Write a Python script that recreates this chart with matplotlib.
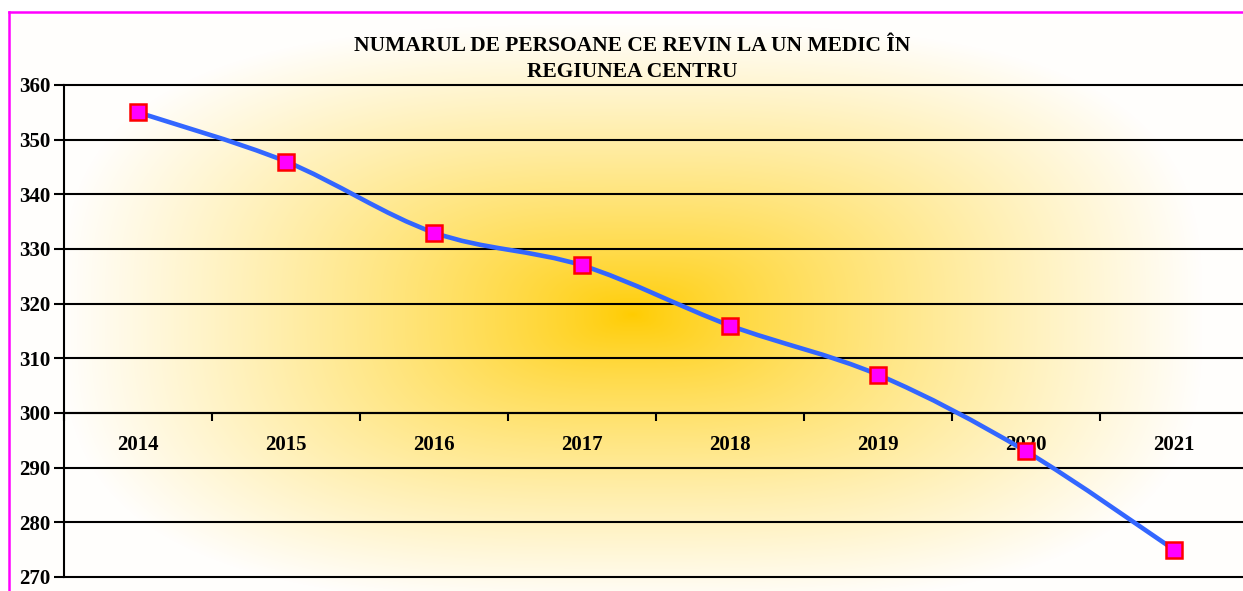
import numpy as np
import matplotlib.pyplot as plt
from matplotlib.path import Path
from matplotlib.patches import PathPatch
from matplotlib.lines import Line2D
from matplotlib.ticker import FixedLocator, NullFormatter

plt.rcParams['font.family'] = ['Liberation Serif', 'DejaVu Serif']
plt.rcParams['font.weight'] = 'bold'

years = ['2014', '2015', '2016', '2017', '2018', '2019', '2020', '2021']
persoane = [355, 346, 333, 327, 316, 307, 293, 275]
titlu = 'NUMARUL DE PERSOANE CE REVIN LA UN MEDIC ÎN\nREGIUNEA CENTRU'

W, H = 1243, 591
fig = plt.figure(figsize=(W / 100, H / 100), dpi=100)

# gradient fill of the chart area (gold centre fading to white)
bg = fig.add_axes([0, 0, 1, 1], zorder=0)
bg.set_axis_off()
yy, xx = np.mgrid[0:H, 0:W]
cx, cy, a, b, p = 632, 314, 570, 290, 3.0
t = ((np.abs(xx - cx) / a) ** p + (np.abs(yy - cy) / b) ** p) ** (1 / p)
s = np.clip(t, 0, 1) ** 0.8
gold = np.array([255, 204, 0]) / 255
white = np.array([255, 254, 252]) / 255
img = gold[None, None, :] * (1 - s[..., None]) + white[None, None, :] * s[..., None]
img[:12, :, :] = 1
img[:, :9, :] = 1
bg.imshow(img, extent=[0, W, H, 0], aspect='auto', interpolation='bilinear')
bg.set_xlim(0, W)
bg.set_ylim(H, 0)

# magenta frame (top and left edges visible)
fig.add_artist(Line2D([9 / W, 1], [1 - 12 / H, 1 - 12 / H], color='#ff00ff', lw=1.8))
fig.add_artist(Line2D([9 / W, 9 / W], [0, 1 - 12 / H], color='#ff00ff', lw=1.8))

left, right, top, bottom = 64, 1248, 85, 577
ax = fig.add_axes([left / W, 1 - bottom / H, (right - left) / W, (bottom - top) / H], zorder=1)
ax.patch.set_alpha(0)

n = len(years)
x = np.arange(n)
ax.set_xlim(-0.5, n - 0.5)
ax.set_ylim(270, 360)

# smoothed line through the points (Bezier segments, Excel style)
pts = np.column_stack([x, persoane]).astype(float)
ext = np.vstack([pts[0], pts, pts[-1]])
verts = [tuple(pts[0])]
codes = [Path.MOVETO]
for i in range(n - 1):
    p0, p1, p2, p3 = ext[i], ext[i + 1], ext[i + 2], ext[i + 3]
    c1 = p1 + (p2 - p0) / 6
    c2 = p2 - (p3 - p1) / 6
    verts += [tuple(c1), tuple(c2), tuple(p2)]
    codes += [Path.CURVE4] * 3
ax.add_patch(PathPatch(Path(verts, codes), fill=False, edgecolor='#3366ff',
                       lw=3.3, zorder=3, capstyle='round', joinstyle='round'))
ax.plot(x, persoane, ls='none', marker='s', ms=11.5, mfc='#ff00ff', mec='#ff0000',
        mew=1.8, zorder=4, clip_on=False)

# y axis
ax.set_yticks(np.arange(270, 361, 10))
ax.tick_params(axis='y', direction='out', length=7, width=1.5, pad=3, labelsize=15)
ax.yaxis.grid(True, color='black', lw=1.5)
for gl in ax.get_ygridlines():
    gl.set_clip_on(False)

# category axis crossing at 300, ticks between categories
ax.spines['bottom'].set_position(('data', 300))
ax.xaxis.set_major_locator(FixedLocator(np.arange(-0.5, n, 1)))
ax.xaxis.set_major_formatter(NullFormatter())
ax.xaxis.set_minor_locator(FixedLocator(x))
ax.set_xticklabels(years, minor=True)
ax.tick_params(axis='x', which='major', direction='out', length=6, width=1.5)
ax.tick_params(axis='x', which='minor', length=0, pad=15.5, labelsize=15)

for sp in ['top', 'right']:
    ax.spines[sp].set_visible(False)
ax.spines['left'].set_linewidth(1.5)
ax.spines['bottom'].set_linewidth(1.5)
ax.set_axisbelow(True)

fig.text(632 / W, 1 - 59 / H, titlu, ha='center', va='center', fontsize=15.5,
         fontweight='bold', linespacing=1.35)

fig.savefig('out.png', dpi=100)
